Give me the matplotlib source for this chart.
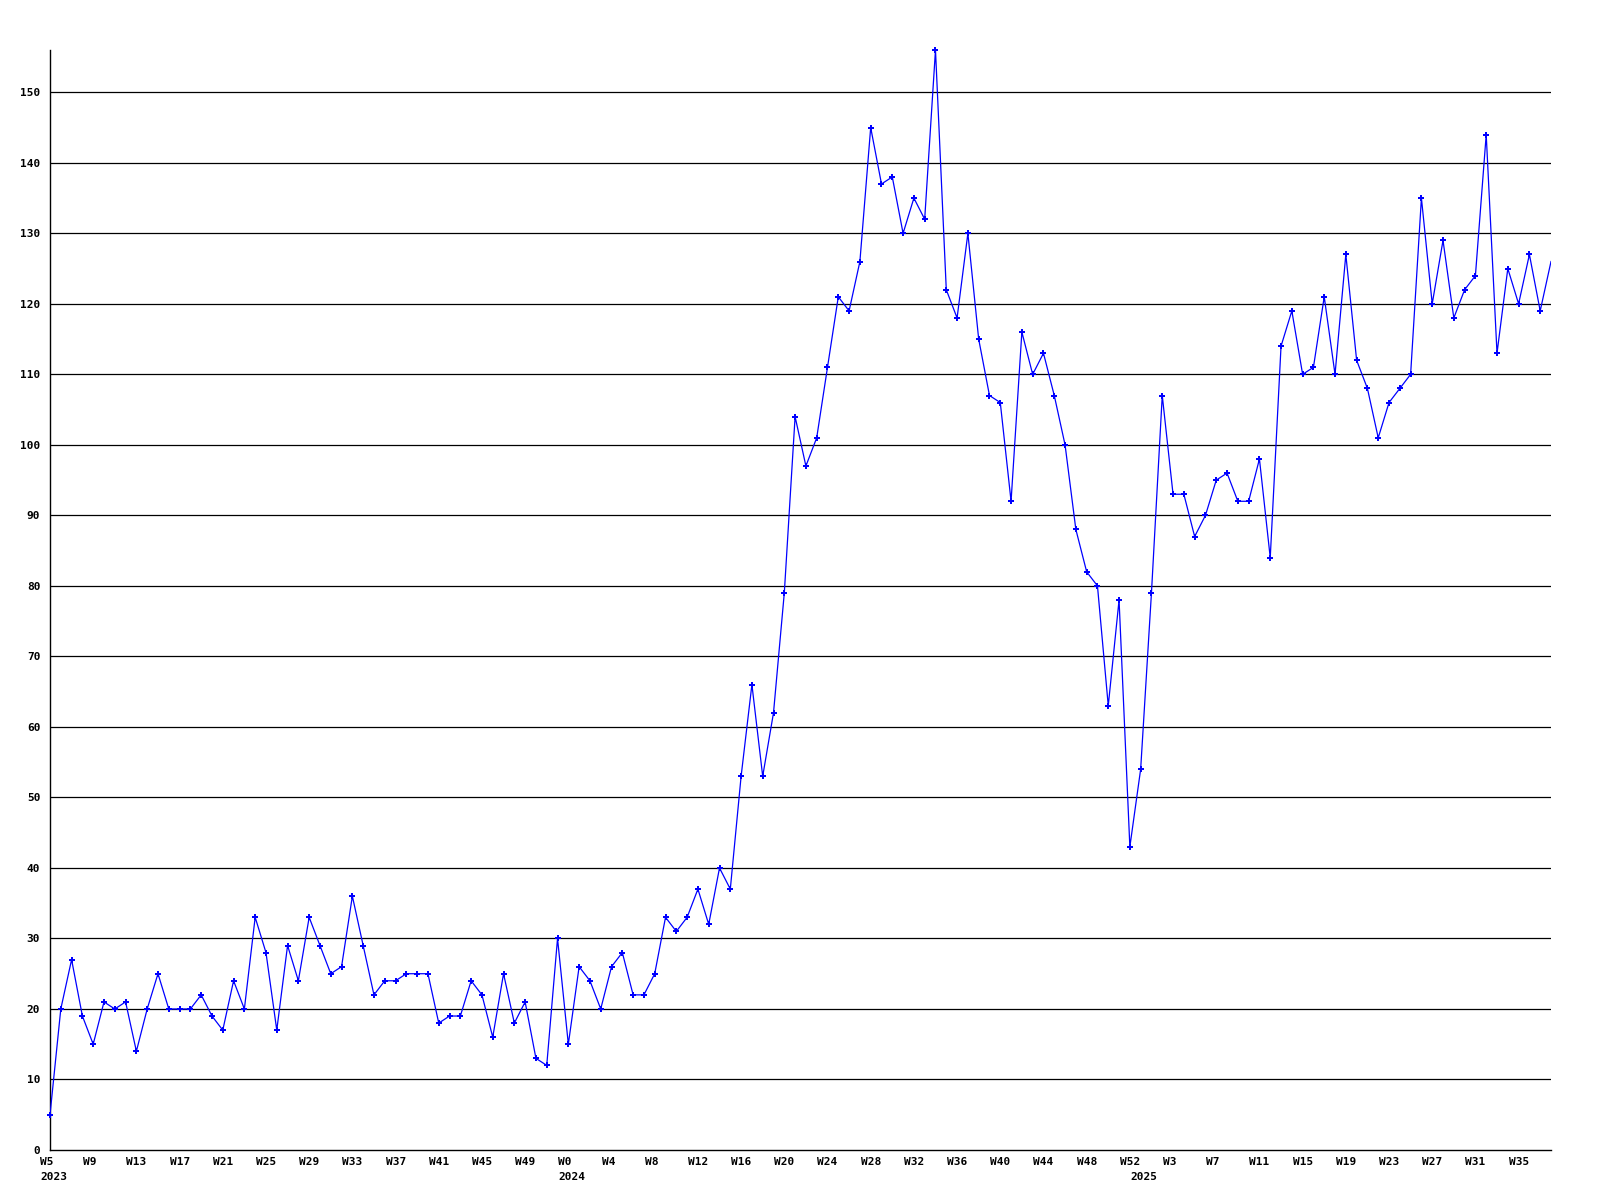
import matplotlib
matplotlib.use("Agg")
import matplotlib.pyplot as plt
from matplotlib.transforms import ScaledTranslation

# ---- data (weekly values) ----
weeks_2023 = list(range(5, 53))
values_2023 = [5, 20, 27, 19, 15, 21, 20, 21, 14, 20,
               25, 20, 20, 20, 22, 19, 17, 24, 20, 33,
               28, 17, 29, 24, 33, 29, 25, 26, 36, 29,
               22, 24, 24, 25, 25, 25, 18, 19, 19, 24,
               22, 16, 25, 18, 21, 13, 12, 30]
weeks_2024 = list(range(0, 53))
values_2024 = [15, 26, 24, 20, 26, 28, 22, 22, 25, 33, 31, 33,
               37, 32, 40, 37, 53, 66, 53, 62, 79, 104,
               97, 101, 111, 121, 119, 126, 145, 137, 138, 130,
               135, 132, 156, 122, 118, 130, 115, 107, 106, 92,
               116, 110, 113, 107, 100, 88, 82, 80, 63, 78,
               43]
weeks_2025 = list(range(0, 39))
values_2025 = [54, 79, 107, 93, 93, 87, 90, 95, 96,
               92, 92, 98, 84, 114, 119, 110, 111, 121, 110,
               127, 112, 108, 101, 106, 108, 110, 135, 120, 129,
               118, 122, 124, 144, 113, 125, 120, 127, 119, 126]

tick_weeks_2023 = [5, 9, 13, 17, 21, 25, 29, 33, 37, 41, 45, 49]
tick_weeks_2024 = [0, 4, 8, 12, 16, 20, 24, 28, 32, 36, 40, 44, 48, 52]
tick_weeks_2025 = [3, 7, 11, 15, 19, 23, 27, 31, 35]
years = [2023, 2024, 2025]
y_ticks = [0, 10, 20, 30, 40, 50, 60, 70, 80, 90, 100, 110, 120, 130, 140, 150]

# ---- build series ----
week_keys = ([(2023, w) for w in weeks_2023] + [(2024, w) for w in weeks_2024]
             + [(2025, w) for w in weeks_2025])
values = values_2023 + values_2024 + values_2025
x = list(range(len(values)))

FONT = dict(family="DejaVu Sans Mono", weight="bold", size=8)

fig = plt.figure(figsize=(16, 12), dpi=100)
fig.patch.set_facecolor("white")
ax = fig.add_axes([50 / 1600, 50 / 1200, 1501 / 1600, 1100 / 1200])

for yv in y_ticks[1:]:
    ax.axhline(yv, color="black", lw=0.9, zorder=1)

# line clipped to the axes, markers allowed to overhang (as in the reference)
ax.plot(x, values, color="#0000ff", lw=0.9, zorder=3)
ax.plot(x[:-1], values[:-1], linestyle="none", color="#0000ff", marker="P",
        ms=3.9, mew=0, zorder=4, clip_on=False)

ax.set_xlim(0, len(values) - 1)
ax.set_ylim(0, max(values))

for s in ["top", "right"]:
    ax.spines[s].set_visible(False)
for s in ["left", "bottom"]:
    ax.spines[s].set_color("black")
    ax.spines[s].set_linewidth(1.0)

ax.set_yticks(y_ticks)
ax.set_yticklabels([str(v) for v in y_ticks], fontdict=FONT)
ax.tick_params(axis="y", length=0, pad=7)

tick_pos, tick_lab = [], []
for yr, lst in [(2023, tick_weeks_2023), (2024, tick_weeks_2024), (2025, tick_weeks_2025)]:
    for w in lst:
        tick_pos.append(week_keys.index((yr, w)))
        tick_lab.append(f"W{w}")
ax.set_xticks(tick_pos)
ax.set_xticklabels(tick_lab, fontdict=FONT, ha="left")
ax.tick_params(axis="x", length=0, pad=5)
shift = ScaledTranslation(-10 / 100, 0, fig.dpi_scale_trans)
for lbl in ax.get_xticklabels():
    lbl.set_transform(lbl.get_transform() + shift)

for yr in years:
    first = next(i for i, k in enumerate(week_keys) if k[0] == yr)
    ax.annotate(str(yr), xy=(first, 0), xycoords=("data", "axes fraction"),
                xytext=(-10, -27), textcoords="offset pixels",
                ha="left", va="center", annotation_clip=False, **FONT)

fig.savefig("out.png", dpi=100, facecolor="white")
